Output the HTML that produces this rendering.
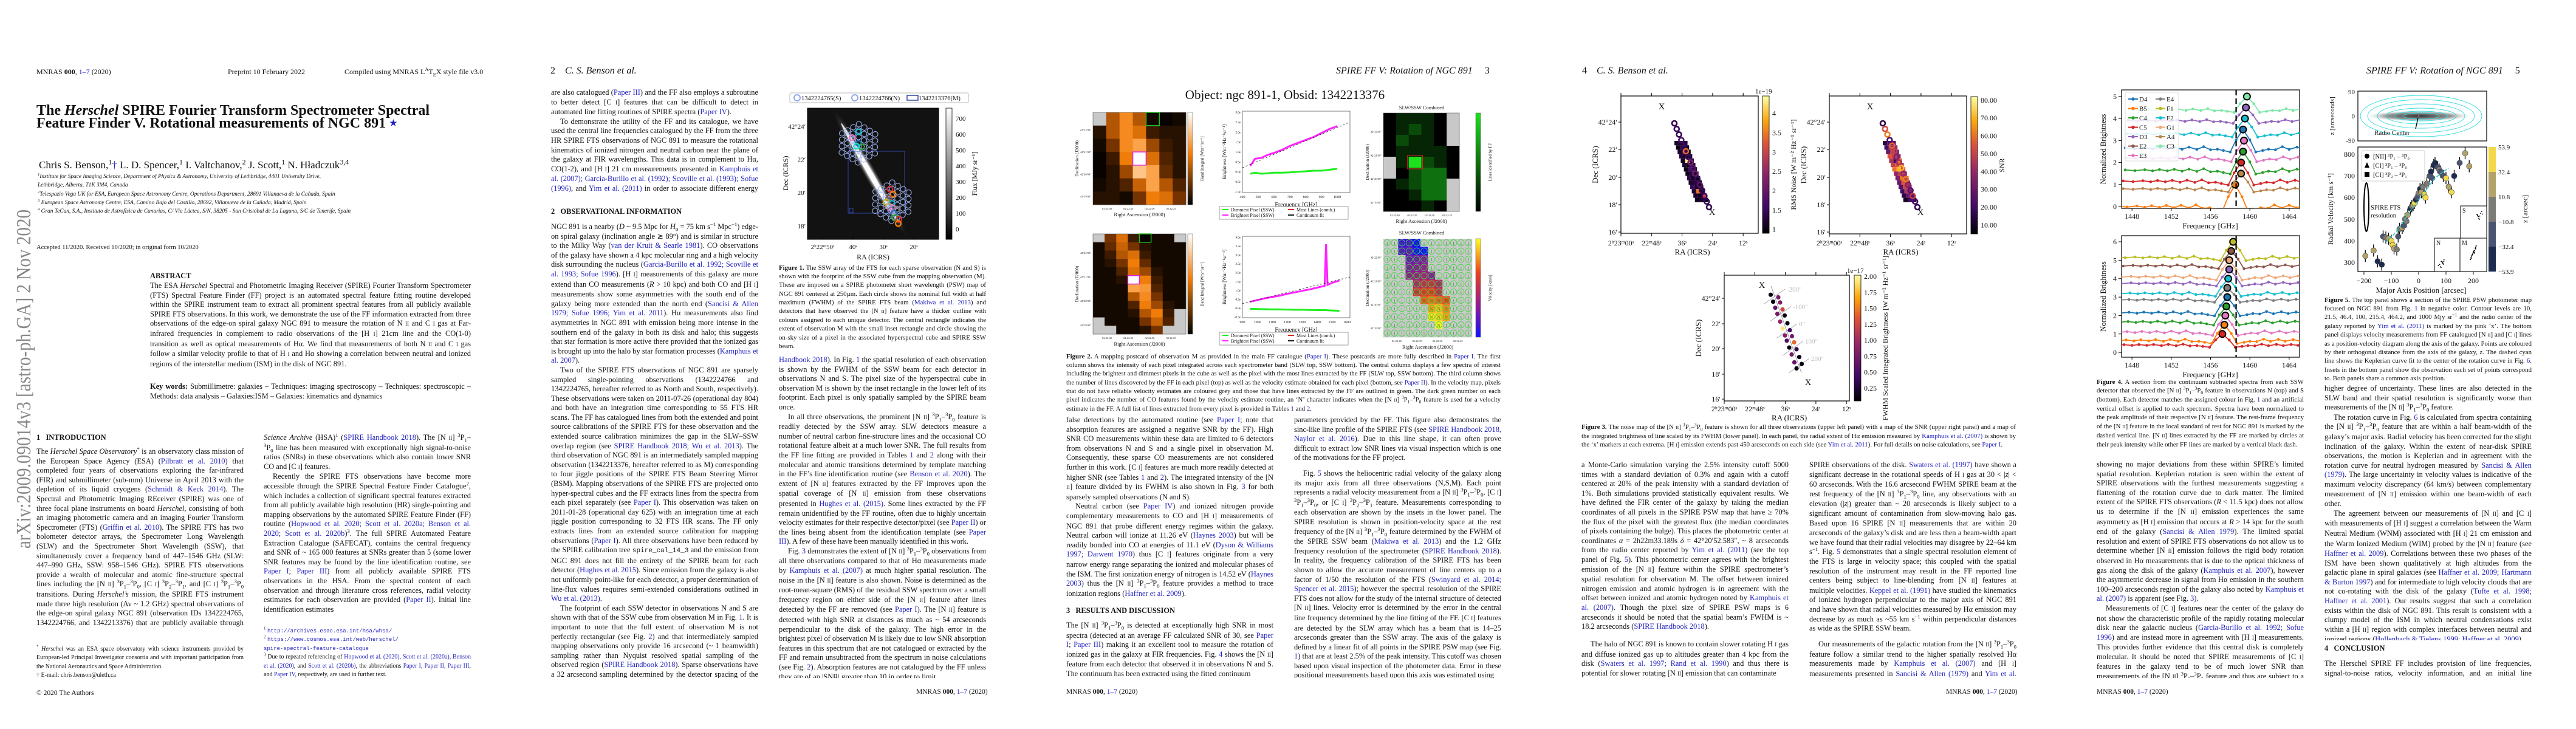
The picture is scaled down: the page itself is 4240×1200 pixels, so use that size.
<!DOCTYPE html>
<html><head><meta charset="utf-8">
<style>
html,body{margin:0;padding:0;background:#fff}
#canvas{position:relative;width:4240px;height:1200px;overflow:hidden;background:#fff;font-family:"Liberation Serif",serif;color:#111}
.t{position:absolute;width:341px;font-size:12.4px;line-height:15.6px;text-align:justify;overflow:hidden;hyphens:auto}
.t p{margin:0;text-indent:15px}
.t p.ni{text-indent:0}
.cap{position:absolute;font-size:10.8px;line-height:14.2px;text-align:justify;overflow:hidden}
.b{color:#2323c0}
sup,sub{line-height:0;font-size:70%}
small{font-size:72%}
.hd{position:absolute;font-size:12px;white-space:nowrap}
.rh{position:absolute;font-size:16px;font-style:italic;white-space:nowrap}
.h2{position:absolute;font-size:12.4px;font-weight:bold;white-space:nowrap}
.ft{position:absolute;font-size:11.5px;white-space:nowrap}
.fn{position:absolute;font-size:10px;line-height:14.4px;width:341px;text-align:justify}
svg text{font-family:"Liberation Serif",serif}
</style></head><body>
<div id="canvas">

<!-- PAGE 1 -->
<div class="hd" style="left:60px;top:111px">MNRAS <b>000</b>, <span class="b">1–7</span> (2020)</div>
<div class="hd" style="left:375px;top:111px">Preprint 10 February 2022</div>
<div class="hd" style="left:567px;top:111px">Compiled using MNRAS L<sup>A</sup>T<sub>E</sub>X style file v3.0</div>
<div style="position:absolute;left:60px;top:172px;font-size:24px;line-height:21px;font-weight:bold;white-space:nowrap">The <i>Herschel</i> SPIRE Fourier Transform Spectrometer Spectral<br>Feature Finder V. Rotational measurements of NGC 891 <span class="b" style="font-size:14px;vertical-align:top">★</span></div>
<div style="position:absolute;left:64px;top:262px;font-size:17px;white-space:nowrap">Chris S. Benson,<sup>1</sup><span class="b">†</span> L. D. Spencer,<sup>1</sup> I. Valtchanov,<sup>2</sup> J. Scott,<sup>1</sup> N. Hładczuk<sup>3,4</sup></div>
<div style="position:absolute;left:62px;top:284px;font-size:9.4px;line-height:14.3px;font-style:italic;white-space:nowrap"><sup>1</sup>Institute for Space Imaging Science, Department of Physics &amp; Astronomy, University of Lethbridge, 4401 University Drive,<br>Lethbridge, Alberta, T1K 3M4, Canada<br><sup>2</sup>Telespazio Vega UK for ESA, European Space Astronomy Centre, Operations Department, 28691 Villanueva de la Cañada, Spain<br><sup>3</sup> European Space Astronomy Centre, ESA, Camino Bajo del Castillo, 28692, Villanueva de la Cañada, Madrid, Spain<br><sup>4</sup> Gran TeCan, S.A., Instituto de Astrofísica de Canarias, C/ Vía Láctea, S/N, 38205 - San Cristóbal de La Laguna, S/C de Tenerife, Spain</div>
<div class="hd" style="left:60px;top:402px;font-size:10.5px">Accepted 11/2020. Received 10/2020; in original form 10/2020</div>
<div class="h2" style="left:247px;top:447px">ABSTRACT</div>
<div class="t" style="left:247px;top:463px;width:528px;height:156px"><p class="ni">The ESA <i>Herschel</i> Spectral and Photometric Imaging Receiver (SPIRE) Fourier Transform Spectrometer (FTS) Spectral Feature Finder (FF) project is an automated spectral feature fitting routine developed within the SPIRE instrument team to extract all prominent spectral features from all publicly available SPIRE FTS observations. In this work, we demonstrate the use of the FF information extracted from three observations of the edge-on spiral galaxy NGC 891 to measure the rotation of N <small>II</small> and C <small>I</small> gas at Far-infrared frequencies in complement to radio observations of the [H <small>I</small>] 21cm line and the CO(1-0) transition as well as optical measurements of Hα. We find that measurements of both N <small>II</small> and C <small>I</small> gas follow a similar velocity profile to that of H <small>I</small> and Hα showing a correlation between neutral and ionized regions of the interstellar medium (ISM) in the disk of NGC 891.</p></div>
<div class="t" style="left:247px;top:629px;width:528px;height:32px"><p class="ni"><b>Key words:</b> Submillimetre: galaxies – Techniques: imaging spectroscopy – Techniques: spectroscopic – Methods: data analysis – Galaxies:ISM – Galaxies: kinematics and dynamics</p></div>
<svg style="position:absolute;left:14px;top:340px" width="44" height="566"><text transform="translate(36,563) rotate(-90)" font-size="34" fill="#888" textLength="558" lengthAdjust="spacingAndGlyphs">arXiv:2009.09014v3  [astro-ph.GA]  2 Nov 2020</text></svg>
<div class="h2" style="left:60px;top:713px">1&nbsp;&nbsp;&nbsp;INTRODUCTION</div>
<div class="t" style="left:60px;top:736px;height:297px"><p class="ni">The <i>Herschel Space Observatory</i><sup>*</sup> is an observatory class mission of the European Space Agency (ESA) (<span class="b">Pilbratt et al. 2010</span>) that completed four years of observations exploring the far-infrared (FIR) and submillimeter (sub-mm) Universe in April 2013 with the depletion of its liquid cryogens (<span class="b">Schmidt &amp; Keck 2014</span>). The Spectral and Photometric Imaging REceiver (SPIRE) was one of three focal plane instruments on board <i>Herschel</i>, consisting of both an imaging photometric camera and an imaging Fourier Transform Spectrometer (FTS) (<span class="b">Griffin et al. 2010</span>). The SPIRE FTS has two bolometer detector arrays, the Spectrometer Long Wavelength (SLW) and the Spectrometer Short Wavelength (SSW), that simultaneously cover a frequency band of 447–1546 GHz (SLW: 447–990 GHz, SSW: 958–1546 GHz). SPIRE FTS observations provide a wealth of molecular and atomic fine-structure spectral lines including the [N <small>II</small>] <sup>3</sup>P<sub>1</sub>–<sup>3</sup>P<sub>0</sub>, [C <small>I</small>] <sup>3</sup>P<sub>2</sub>–<sup>3</sup>P<sub>1</sub>, and [C <small>I</small>] <sup>3</sup>P<sub>1</sub>–<sup>3</sup>P<sub>0</sub> transitions. During <i>Herschel’s</i> mission, the SPIRE FTS instrument made three high resolution (Δν ~ 1.2 GHz) spectral observations of the edge-on spiral galaxy NGC 891 (observation IDs 1342224765, 1342224766, and 1342213376) that are publicly available through the <i>Herschel</i></p></div>
<div class="t" style="left:434px;top:713px;height:312px"><p class="ni"><i>Science Archive</i> (HSA)<sup>1</sup> (<span class="b">SPIRE Handbook 2018</span>). The [N <small>II</small>] <sup>3</sup>P<sub>1</sub>–<sup>3</sup>P<sub>0</sub> line has been measured with exceptionally high signal-to-noise ratios (SNRs) in these observations which also contain lower SNR CO and [C <small>I</small>] features.</p><p>Recently the SPIRE FTS observations have become more accessible through the SPIRE Spectral Feature Finder Catalogue<sup>2</sup>, which includes a collection of significant spectral features extracted from all publicly available high resolution (HR) single-pointing and mapping observations by the automated SPIRE Feature Finder (FF) routine (<span class="b">Hopwood et al. 2020; Scott et al. 2020a; Benson et al. 2020; Scott et al. 2020b</span>)<sup>3</sup>. The full SPIRE Automated Feature Extraction Catalogue (SAFECAT), contains the central frequency and SNR of ~ 165 000 features at SNRs greater than 5 (some lower SNR features may be found by the line identification routine, see <span class="b">Paper I</span>; <span class="b">Paper III</span>) from all publicly available SPIRE FTS observations in the HSA. From the spectral content of each observation and through literature cross references, radial velocity estimates for each observation are provided (<span class="b">Paper II</span>). Initial line identification estimates</p></div>
<div class="fn" style="left:60px;top:1062px"><sup>*</sup> <i>Herschel</i> was an ESA space observatory with science instruments provided by European-led Principal Investigator consortia and with important participation from the National Aeronautics and Space Administration.<br>† E-mail: chris.benson@uleth.ca</div>
<div class="fn" style="left:434px;top:1032px"><sup>1</sup> <span class="b" style="font-family:'Liberation Mono',monospace;font-size:9px">http://archives.esac.esa.int/hsa/whsa/</span><br><sup>2</sup> <span class="b" style="font-family:'Liberation Mono',monospace;font-size:9px">https://www.cosmos.esa.int/web/herschel/<br>spire-spectral-feature-catalogue</span><br><sup>3</sup> Due to repeated referencing of <span class="b">Hopwood et al. (2020), Scott et al. (2020a), Benson et al. (2020)</span>, and <span class="b">Scott et al. (2020b)</span>, the abbreviations <span class="b">Paper I, Paper II, Paper III</span>, and <span class="b">Paper IV</span>, respectively, are used in further text.</div>
<div class="ft" style="left:60px;top:1135px">© 2020 The Authors</div>

<!-- PAGE 2 -->
<div class="rh" style="left:906px;top:108px"><span style="font-style:normal">2</span>&nbsp;&nbsp;&nbsp;&nbsp;C. S. Benson et al.</div>
<div class="t" style="left:907px;top:145px;height:172px"><p class="ni">are also catalogued (<span class="b">Paper III</span>) and the FF also employs a subroutine to better detect [C <small>I</small>] features that can be difficult to detect in automated line fitting routines of SPIRE spectra (<span class="b">Paper IV</span>).</p><p>To demonstrate the utility of the FF and its catalogue, we have used the central line frequencies catalogued by the FF from the three HR SPIRE FTS observations of NGC 891 to measure the rotational kinematics of ionized nitrogen and neutral carbon near the plane of the galaxy at FIR wavelengths. This data is in complement to Hα, CO(1-2), and [H <small>I</small>] 21 cm measurements presented in <span class="b">Kamphuis et al. (2007); Garcia-Burillo et al. (1992); Scoville et al. (1993); Sofue (1996)</span>, and <span class="b">Yim et al. (2011)</span> in order to associate different energy regimes of the interstellar medium (ISM) in NGC 891.</p></div>
<div class="h2" style="left:907px;top:341px">2&nbsp;&nbsp;&nbsp;OBSERVATIONAL INFORMATION</div>
<div class="t" style="left:907px;top:366px;height:750px"><p class="ni">NGC 891 is a nearby (<i>D</i> ~ 9.5 Mpc for <i>H</i><sub>0</sub> = 75 km s<sup>−1</sup> Mpc<sup>−1</sup>) edge-on spiral galaxy (inclination angle ≳ 89°) and is similar in structure to the Milky Way (<span class="b">van der Kruit &amp; Searle 1981</span>). CO observations of the galaxy have shown a 4 kpc molecular ring and a high velocity disk surrounding the nucleus (<span class="b">Garcia-Burillo et al. 1992; Scoville et al. 1993; Sofue 1996</span>). [H <small>I</small>] measurements of this galaxy are more extend than CO measurements (<i>R</i> &gt; 10 kpc) and both CO and [H <small>I</small>] measurements show some asymmetries with the south end of the galaxy being more extended than the north end (<span class="b">Sancisi &amp; Allen 1979; Sofue 1996; Yim et al. 2011</span>). Hα measurements also find asymmetries in NGC 891 with emission being more intense in the southern end of the galaxy in both its disk and halo; this suggests that star formation is more active there provided that the ionized gas is brought up into the halo by star formation processes (<span class="b">Kamphuis et al. 2007</span>).</p><p>Two of the SPIRE FTS observations of NGC 891 are sparsely sampled single-pointing observations (1342224766 and 1342224765, hereafter referred to as North and South, respectively). These observations were taken on 2011-07-26 (operational day 804) and both have an integration time corresponding to 55 FTS HR scans. The FF has catalogued lines from both the extended and point source calibrations of the SPIRE FTS for these observation and the extended source calibration minimizes the gap in the SLW–SSW overlap region (see <span class="b">SPIRE Handbook 2018; Wu et al. 2013</span>). The third observation of NGC 891 is an intermediately sampled mapping observation (1342213376, hereafter referred to as M) corresponding to four jiggle positions of the SPIRE FTS Beam Steering Mirror (BSM). Mapping observations of the SPIRE FTS are projected onto hyper-spectral cubes and the FF extracts lines from the spectra from each pixel separately (see <span class="b">Paper I</span>). This observation was taken on 2011-01-28 (operational day 625) with an integration time at each jiggle position corresponding to 32 FTS HR scans. The FF only extracts lines from an extended source calibration for mapping observations (<span class="b">Paper I</span>). All three observations have been reduced by the SPIRE calibration tree <span style="font-family:'Liberation Mono',monospace;font-size:11px">spire_cal_14_3</span> and the emission from NGC 891 does not fill the entirety of the SPIRE beam for each detector (<span class="b">Hughes et al. 2015</span>). Since emission from the galaxy is also not uniformly point-like for each detector, a proper determination of line-flux values requires semi-extended considerations outlined in <span class="b">Wu et al. (2013)</span>.</p><p>The footprint of each SSW detector in observations N and S are shown with that of the SSW cube from observation M in Fig. <span class="b">1</span>. It is important to note that the full extent of observation M is not perfectly rectangular (see Fig. <span class="b">2</span>) and that intermediately sampled mapping observations only provide 16 arcsecond (~ 1 beamwidth) sampling rather than Nyquist resolved spatial sampling of the observed region (<span class="b">SPIRE Handbook 2018</span>). Sparse observations have a 32 arcsecond sampling determined by the detector spacing of the FTS (<span class="b">SPIRE</span></p></div>
<div class="cap" style="left:1282px;top:434px;width:341px;height:142px"><b>Figure 1.</b> The SSW array of the FTS for each sparse observation (N and S) is shown with the footprint of the SSW cube from the mapping observation (M). These are imposed on a SPIRE photometer short wavelength (PSW) map of NGC 891 centered at 250µm. Each circle shows the nominal full width at half maximum (FWHM) of the SPIRE FTS beam (<span class="b">Makiwa et al. 2013</span>) and detectors that have observed the [N <small>II</small>] feature have a thicker outline with colours assigned to each unique detector. The central rectangle indicates the extent of observation M with the small inset rectangle and circle showing the on-sky size of a pixel in the associated hyperspectral cube and SPIRE SSW beam.</div>
<div class="t" style="left:1282px;top:585px;height:531px"><p class="ni"><span class="b">Handbook 2018</span>). In Fig. <span class="b">1</span> the spatial resolution of each observation is shown by the FWHM of the SSW beam for each detector in observations N and S. The pixel size of the hyperspectral cube in observation M is shown by the inset rectangle in the lower left of its footprint. Each pixel is only spatially sampled by the SPIRE beam once.</p><p>In all three observations, the prominent [N <small>II</small>] <sup>3</sup>P<sub>1</sub>–<sup>3</sup>P<sub>0</sub> feature is readily detected by the SSW array. SLW detectors measure a number of neutral carbon fine-structure lines and the occasional CO rotational feature albeit at a much lower SNR. The full results from the FF line fitting are provided in Tables <span class="b">1</span> and <span class="b">2</span> along with their molecular and atomic transitions determined by template matching in the FF’s line identification routine (see <span class="b">Benson et al. 2020</span>). The extent of [N <small>II</small>] features extracted by the FF improves upon the spatial coverage of [N <small>II</small>] emission from these observations presented in <span class="b">Hughes et al. (2015)</span>. Some lines extracted by the FF remain unidentified by the FF routine, often due to highly uncertain velocity estimates for their respective detector/pixel (see <span class="b">Paper II</span>) or the lines being absent from the identification template (see <span class="b">Paper III</span>). A few of these have been manually identified in this work.</p><p>Fig. <span class="b">3</span> demonstrates the extent of [N <small>II</small>] <sup>3</sup>P<sub>1</sub>–<sup>3</sup>P<sub>0</sub> observations from all three observations compared to that of Hα measurements made by <span class="b">Kamphuis et al. (2007)</span> at much higher spatial resolution. The noise in the [N <small>II</small>] feature is also shown. Noise is determined as the root-mean-square (RMS) of the residual SSW spectrum over a small frequency region on either side of the [N <small>II</small>] feature after lines detected by the FF are removed (see <span class="b">Paper I</span>). The [N <small>II</small>] feature is detected with high SNR at distances as much as ~ 54 arcseconds perpendicular to the disk of the galaxy. The high error in the brightest pixel of observation M is likely due to low SNR absorption features in this spectrum that are not catalogued or extracted by the FF and remain unsubtracted from the spectrum in noise calculations (see Fig. <span class="b">2</span>). Absorption features are not catalogued by the FF unless they are of an |SNR| greater than 10 in order to limit</p></div>
<div class="ft" style="left:1508px;top:1133px">MNRAS <b>000</b>, <span class="b">1–7</span> (2020)</div>

<!-- PAGE 3 -->
<div class="rh" style="left:2199px;top:108px">SPIRE FF V: Rotation of NGC 891&nbsp;&nbsp;&nbsp;&nbsp;&nbsp;<span style="font-style:normal">3</span></div>
<div class="cap" style="left:1755px;top:580px;width:715px;height:101px"><b>Figure 2.</b> A mapping postcard of observation M as provided in the main FF catalogue (<span class="b">Paper I</span>). These postcards are more fully described in <span class="b">Paper I</span>. The first column shows the intensity of each pixel integrated across each spectrometer band (SLW top, SSW bottom). The central column displays a few spectra of interest including the brightest and dimmest pixels in the cube as well as the pixel with the most lines extracted by the FF (SLW top, SSW bottom). The third column shows the number of lines discovered by the FF in each pixel (top) as well as the velocity estimate obtained for each pixel (bottom, see <span class="b">Paper II</span>). In the velocity map, pixels that do not have reliable velocity estimates are coloured grey and those that have lines extracted by the FF are outlined in green. The dark green number on each pixel indicates the number of CO features found by the velocity estimate routine, an ‘N’ character indicates when the [N <small>II</small>] <sup>3</sup>P<sub>1</sub>–<sup>3</sup>P<sub>0</sub> feature is used for a velocity estimate in the FF. A full list of lines extracted from every pixel is provided in Tables <span class="b">1</span> and <span class="b">2</span>.</div>
<div class="t" style="left:1755px;top:684px;height:312px"><p class="ni">false detections by the automated routine (see <span class="b">Paper I</span>; note that absorption features are assigned a negative SNR by the FF). High SNR CO measurements within these data are limited to 6 detectors from observations N and S and a single pixel in observation M. Consequently, these sparse CO measurements are not considered further in this work. [C <small>I</small>] features are much more readily detected at higher SNR (see Tables <span class="b">1</span> and <span class="b">2</span>). The integrated intensity of the [N <small>II</small>] feature divided by its FWHM is also shown in Fig. <span class="b">3</span> for both sparsely sampled observations (N and S).</p><p>Neutral carbon (see <span class="b">Paper IV</span>) and ionized nitrogen provide complementary measurements to CO and [H <small>I</small>] measurements of NGC 891 that probe different energy regimes within the galaxy. Neutral carbon will ionize at 11.26 eV (<span class="b">Haynes 2003</span>) but will be readily bonded into CO at energies of 11.1 eV (<span class="b">Dyson &amp; Williams 1997; Darwent 1970</span>) thus [C <small>I</small>] features originate from a very narrow energy range separating the ionized and molecular phases of the ISM. The first ionization energy of nitrogen is 14.52 eV (<span class="b">Haynes 2003</span>) thus the [N <small>II</small>] <sup>3</sup>P<sub>1</sub>–<sup>3</sup>P<sub>0</sub> feature provides a method to trace ionization regions (<span class="b">Haffner et al. 2009</span>).</p></div>
<div class="h2" style="left:1755px;top:998px">3&nbsp;&nbsp;&nbsp;RESULTS AND DISCUSSION</div>
<div class="t" style="left:1755px;top:1022px;height:94px"><p class="ni">The [N <small>II</small>] <sup>3</sup>P<sub>1</sub>–<sup>3</sup>P<sub>0</sub> is detected at exceptionally high SNR in most spectra (detected at an average FF calculated SNR of 30, see <span class="b">Paper I</span>; <span class="b">Paper III</span>) making it an excellent tool to measure the rotation of ionized gas in the galaxy at FIR frequencies. Fig. <span class="b">4</span> shows the [N <small>II</small>] feature from each detector that observed it in observations N and S. The continuum has been extracted using the fitted continuum</p></div>
<div class="t" style="left:2130px;top:684px;height:78px"><p class="ni">parameters provided by the FF. This figure also demonstrates the sinc-like line profile of the SPIRE FTS (see <span class="b">SPIRE Handbook 2018, Naylor et al. 2016</span>). Due to this line shape, it can often prove difficult to extract low SNR lines via visual inspection which is one of the motivations for the FF project.</p></div>
<div class="t" style="left:2130px;top:772px;height:344px"><p>Fig. <span class="b">5</span> shows the heliocentric radial velocity of the galaxy along its major axis from all three observations (N,S,M). Each point represents a radial velocity measurement from a [N <small>II</small>] <sup>3</sup>P<sub>1</sub>–<sup>3</sup>P<sub>0</sub>, [C <small>I</small>] <sup>3</sup>P<sub>1</sub>–<sup>3</sup>P<sub>0</sub>, or [C <small>I</small>] <sup>3</sup>P<sub>2</sub>–<sup>3</sup>P<sub>1</sub> feature. Measurements corresponding to each observation are shown by the insets in the lower panel. The SPIRE resolution is shown in position-velocity space at the rest frequency of the [N <small>II</small>] <sup>3</sup>P<sub>1</sub>–<sup>3</sup>P<sub>0</sub> feature determined by the FWHM of the SPIRE SSW beam (<span class="b">Makiwa et al. 2013</span>) and the 1.2 GHz frequency resolution of the spectrometer (<span class="b">SPIRE Handbook 2018</span>). In reality, the frequency calibration of the SPIRE FTS has been shown to allow the accurate measurement of line centers up to a factor of 1/50 the resolution of the FTS (<span class="b">Swinyard et al. 2014; Spencer et al. 2015</span>); however the spectral resolution of the SPIRE FTS does not allow for the study of the internal structure of detected [N <small>II</small>] lines. Velocity error is determined by the error in the central line frequency determined by the line fitting of the FF. [C <small>I</small>] features are detected by the SLW array which has a beam that is 14–25 arcseconds greater than the SSW array. The axis of the galaxy is defined by a linear fit of all points in the SPIRE PSW map (see Fig. <span class="b">1</span>) that are at least 2.5% of the peak intensity. This cutoff was chosen based upon visual inspection of the photometer data. Error in these positional measurements based upon this axis was estimated using</p></div>
<div class="ft" style="left:1755px;top:1133px">MNRAS <b>000</b>, <span class="b">1–7</span> (2020)</div>

<!-- PAGE 4 -->
<div class="rh" style="left:2604px;top:108px"><span style="font-style:normal">4</span>&nbsp;&nbsp;&nbsp;&nbsp;C. S. Benson et al.</div>
<div class="cap" style="left:2603px;top:696px;width:715px;height:58px"><b>Figure 3.</b> The noise map of the [N <small>II</small>] <sup>3</sup>P<sub>1</sub>–<sup>3</sup>P<sub>0</sub> feature is shown for all three observations (upper left panel) with a map of the SNR (upper right panel) and a map of the integrated brightness of line scaled by its FWHM (lower panel). In each panel, the radial extent of Hα emission measured by <span class="b">Kamphuis et al. (2007)</span> is shown by the ‘x’ markers at each extrema. [H <small>I</small>] emission extends past 450 arcseconds on each side (see <span class="b">Yim et al. 2011</span>). For full details on noise calculations, see <span class="b">Paper I</span>.</div>
<div class="t" style="left:2603px;top:758px;height:282px"><p class="ni">a Monte-Carlo simulation varying the 2.5% intensity cutoff 5000 times with a standard deviation of 0.3% and again with a cutoff centered at 20% of the peak intensity with a standard deviation of 1%. Both simulations provided statistically equivalent results. We have defined the FIR center of the galaxy by taking the median coordinates of all pixels in the SPIRE PSW map that have ≥ 70% the flux of the pixel with the greatest flux (the median coordinates of pixels containing the bulge). This places the photometric center at coordinates <i>α</i> = 2h22m33.189s <i>δ</i> = 42°20′52.583″, ~ 8 arcseconds from the radio center reported by <span class="b">Yim et al. (2011)</span> (see the top panel of Fig. <span class="b">5</span>). This photometric center agrees with the brightest emission of the [N <small>II</small>] feature within the SPIRE spectrometer’s spatial resolution for observation M. The offset between ionized nitrogen emission and atomic hydrogen is in agreement with the offset between ionized and atomic hydrogen noted by <span class="b">Kamphuis et al. (2007)</span>. Though the pixel size of SPIRE PSW maps is 6 arcseconds it should be noted that the spatial beam’s FWHM is ~ 18.2 arcseconds (<span class="b">SPIRE Handbook 2018</span>).</p></div>
<div class="t" style="left:2603px;top:1053px;height:63px"><p>The halo of NGC 891 is known to contain slower rotating H <small>I</small> gas and diffuse ionized gas up to altitudes greater than 4 kpc from the disk (<span class="b">Swaters et al. 1997; Rand et al. 1990</span>) and thus there is potential for slower rotating [N <small>II</small>] emission that can contaminate</p></div>
<div class="t" style="left:2978px;top:758px;height:282px"><p class="ni">SPIRE observations of the disk. <span class="b">Swaters et al. (1997)</span> have shown a significant decrease in the rotational speeds of H <small>I</small> gas at 30 &lt; |<i>z</i>| &lt; 60 arcseconds. With the 16.6 arcsecond FWHM SPIRE beam at the rest frequency of the [N <small>II</small>] <sup>3</sup>P<sub>1</sub>–<sup>3</sup>P<sub>0</sub> line, any observations with an elevation (|<i>z</i>|) greater than ~ 20 arcseconds is likely subject to a significant amount of contamination from slow-moving halo gas. Based upon 16 SPIRE [N <small>II</small>] measurements that are within 20 arcseconds of the galaxy’s disk and are less then a beam-width apart we have found that their radial velocities may disagree by 22–64 km s<sup>−1</sup>. Fig. <span class="b">5</span> demonstrates that a single spectral resolution element of the FTS is large in velocity space; this coupled with the spatial resolution of the instrument may result in the FF reported line centers being subject to line-blending from [N <small>II</small>] features at multiple velocities. <span class="b">Keppel et al. (1991)</span> have studied the kinematics of ionized hydrogen perpendicular to the major axis of NGC 891 and have shown that radial velocities measured by Hα emission may decrease by as much as ~55 km s<sup>−1</sup> within perpendicular distances as wide as the SPIRE SSW beam.</p></div>
<div class="t" style="left:2978px;top:1053px;height:63px"><p>Our measurements of the galactic rotation from the [N <small>II</small>] <sup>3</sup>P<sub>1</sub>–<sup>3</sup>P<sub>0</sub> feature follow a similar trend to the higher spatially resolved Hα measurements made by <span class="b">Kamphuis et al. (2007)</span> and [H <small>I</small>] measurements presented in <span class="b">Sancisi &amp; Allen (1979)</span> and <span class="b">Yim et al. (2011)</span>,</p></div>
<div class="ft" style="left:3203px;top:1133px">MNRAS <b>000</b>, <span class="b">1–7</span> (2020)</div>

<!-- PAGE 5 -->
<div class="rh" style="left:3895px;top:108px">SPIRE FF V: Rotation of NGC 891&nbsp;&nbsp;&nbsp;&nbsp;&nbsp;<span style="font-style:normal">5</span></div>
<div class="cap" style="left:3451px;top:622px;width:341px;height:129px"><b>Figure 4.</b> A section from the continuum subtracted spectra from each SSW detector that observed the [N <small>II</small>] <sup>3</sup>P<sub>1</sub>–<sup>3</sup>P<sub>0</sub> feature in observations N (top) and S (bottom). Each detector matches the assigned colour in Fig. <span class="b">1</span> and an artificial vertical offset is applied to each spectrum. Spectra have been normalized to the peak amplitude of their respective [N <small>II</small>] feature. The rest-frame frequency of the [N <small>II</small>] feature in the local standard of rest for NGC 891 is marked by the dashed vertical line. [N <small>II</small>] lines extracted by the FF are marked by circles at their peak intensity while other FF lines are marked by a vertical black dash.</div>
<div class="t" style="left:3451px;top:757px;height:359px"><p class="ni">showing no major deviations from these within SPIRE’s limited spatial resolution. Keplerian rotation is seen within the extent of SPIRE observations with the furthest measurements suggesting a flattening of the rotation curve due to dark matter. The limited extent of the SPIRE FTS observations (<i>R</i> &lt; 11.5 kpc) does not allow us to determine if the [N <small>II</small>] emission experiences the same asymmetry as [H <small>I</small>] emission that occurs at <i>R</i> &gt; 14 kpc for the south end of the galaxy (<span class="b">Sancisi &amp; Allen 1979</span>). The limited spatial resolution and extent of SPIRE FTS observations do not allow us to determine whether [N <small>II</small>] emission follows the rigid body rotation observed in Hα measurements that is due to the optical thickness of gas along the disk of the galaxy (<span class="b">Kamphuis et al. 2007</span>), however the asymmetric decrease in signal from Hα emission in the southern 100–200 arcseconds region of the galaxy also noted by <span class="b">Kamphuis et al. (2007)</span> is apparent (see Fig. <span class="b">3</span>).</p><p>Measurements of [C <small>I</small>] features near the center of the galaxy do not show the characteristic profile of the rapidly rotating molecular disk near the galactic nucleus (<span class="b">Garcia-Burillo et al. 1992; Sofue 1996</span>) and are instead more in agreement with [H <small>I</small>] measurements. This provides further evidence that this central disk is completely molecular. It should be noted that SPIRE measurements of [C <small>I</small>] features in the galaxy tend to be of much lower SNR than measurements of the [N <small>II</small>] <sup>3</sup>P<sub>1</sub>–<sup>3</sup>P<sub>0</sub> feature and thus are subject to a much</p></div>
<div class="cap" style="left:3826px;top:487px;width:341px;height:143px"><b>Figure 5.</b> The top panel shows a section of the SPIRE PSW photometer map focused on NGC 891 from Fig. <span class="b">1</span> in negative color. Contour levels are 10, 21.5, 46.4, 100, 215.4, 464.2, and 1000 Mjy sr<sup>−1</sup> and the radio center of the galaxy reported by <span class="b">Yim et al. (2011)</span> is marked by the pink ‘x’. The bottom panel displays velocity measurements from FF catalogued [N <small>II</small>] and [C <small>I</small>] lines as a position-velocity diagram along the axis of the galaxy. Points are coloured by their orthogonal distance from the axis of the galaxy, <i>z</i>. The dashed cyan line shows the Keplerian curve fit to the center of the rotation curve in Fig. <span class="b">6</span>. Insets in the bottom panel show the observation each set of points correspond to. Both panels share a common axis position.</div>
<div class="t" style="left:3826px;top:632px;height:422px"><p class="ni">higher degree of uncertainty. These lines are also detected in the SLW band and their spatial resolution is significantly worse than measurements of the [N <small>II</small>] <sup>3</sup>P<sub>1</sub>–<sup>3</sup>P<sub>0</sub> feature.</p><p>The rotation curve in Fig. <span class="b">6</span> is calculated from spectra containing the [N <small>II</small>] <sup>3</sup>P<sub>1</sub>–<sup>3</sup>P<sub>0</sub> feature that are within a half beam-width of the galaxy’s major axis. Radial velocity has been corrected for the slight inclination of the galaxy. Within the extent of near-disk SPIRE observations, the motion is Keplerian and in agreement with the rotation curve for neutral hydrogen measured by <span class="b">Sancisi &amp; Allen (1979)</span>. The large uncertainty in velocity values is indicative of the maximum velocity discrepancy (64 km/s) between complementary measurement of [N <small>II</small>] emission within one beam-width of each other.</p><p>The agreement between our measurements of [N <small>II</small>] and [C <small>I</small>] with measurements of [H <small>I</small>] suggest a correlation between the Warm Neutral Medium (WNM) associated with [H <small>I</small>] 21 cm emission and the Warm Ionized Medium (WIM) probed by the [N <small>II</small>] feature (see <span class="b">Haffner et al. 2009</span>). Correlations between these two phases of the ISM have been shown qualitatively at high altitudes from the galactic plane in spiral galaxies (see <span class="b">Haffner et al. 2009; Hartmann &amp; Burton 1997</span>) and for intermediate to high velocity clouds that are not co-rotating with the disk of the galaxy (<span class="b">Tufte et al. 1998; Haffner et al. 2001</span>). Our results suggest that such a correlation exists within the disk of NGC 891. This result is consistent with a clumpy model of the ISM in which neutral condensations exist within a [H <small>II</small>] region with complex interfaces between neutral and ionized regions (<span class="b">Hollenbach &amp; Tielens 1999; Haffner et al. 2009</span>).</p></div>
<div class="h2" style="left:3826px;top:1060px">4&nbsp;&nbsp;&nbsp;CONCLUSION</div>
<div class="t" style="left:3826px;top:1085px;height:32px"><p class="ni">The Herschel SPIRE FF includes provision of line frequencies, signal-to-noise ratios, velocity information, and an initial line identification</p></div>
<div class="ft" style="left:3451px;top:1133px">MNRAS <b>000</b>, <span class="b">1–7</span> (2020)</div>

<svg id="figs" width="4240" height="1200" style="position:absolute;left:0;top:0;pointer-events:none">
<defs>
<linearGradient id="gGray" x1="0" y1="1" x2="0" y2="0"><stop offset="0" stop-color="#000"/><stop offset="1" stop-color="#fff"/></linearGradient>
<linearGradient id="gOrange" x1="0" y1="1" x2="0" y2="0"><stop offset="0" stop-color="#000"/><stop offset="0.55" stop-color="#f07d0a"/><stop offset="1" stop-color="#fff"/></linearGradient>
<linearGradient id="gGreen" x1="0" y1="1" x2="0" y2="0"><stop offset="0" stop-color="#000"/><stop offset="1" stop-color="#1ee01e"/></linearGradient>
<linearGradient id="gVel" x1="0" y1="1" x2="0" y2="0"><stop offset="0" stop-color="#1010ff"/><stop offset="0.3" stop-color="#8a1a9a"/><stop offset="0.65" stop-color="#e8401e"/><stop offset="1" stop-color="#ffff20"/></linearGradient>
<linearGradient id="gInferno" x1="0" y1="1" x2="0" y2="0"><stop offset="0" stop-color="#000004"/><stop offset="0.2" stop-color="#420a68"/><stop offset="0.45" stop-color="#932667"/><stop offset="0.65" stop-color="#dd513a"/><stop offset="0.82" stop-color="#fca50a"/><stop offset="1" stop-color="#fcffa4"/></linearGradient>
<radialGradient id="gStreak"><stop offset="0" stop-color="#fff"/><stop offset="0.35" stop-color="#ddd"/><stop offset="1" stop-color="#111" stop-opacity="0"/></radialGradient>
<radialGradient id="gGal"><stop offset="0" stop-color="#333"/><stop offset="0.6" stop-color="#999"/><stop offset="1" stop-color="#fff" stop-opacity="0"/></radialGradient>
<clipPath id="c4a"><rect x="3492" y="148" width="293" height="195"/></clipPath>
<clipPath id="c4b"><rect x="3492" y="388" width="293" height="200"/></clipPath>
<clipPath id="c1"><rect x="1329" y="178" width="216" height="216"/></clipPath>
</defs>
<g id="fig1"></g>
<g id="fig2"></g>
<g id="fig3"></g>
<g id="fig4"></g>
<g id="fig5"></g>
</svg>
</div>

<script>
// ---------------- DATA ----------------
// Fig 1: PSW flux colorbar ticks
const fig1FluxTicks = [0,100,200,300,400,500,600,700];
const fig1DecTicks = ["42°24′","22′","20′","18′"];
const fig1DecVals = [24,22,20,18];
const fig1RaTicks = ["2ʰ22ᵐ50ˢ","40ˢ","30ˢ","20ˢ"];
const fig1RaVals = [50,40,30,20];
const fig1NiiN = [["#17becf",0,2],["#e377c2",-1,1],["#1f77b4",0,0],["#2ca02c",0.5,-0.6],["#17e0d0",-0.3,-0.5]];
const fig1NiiS = [["#d62728",-0.3,2.2],["#ff7f0e",0.2,1.3],["#8c564b",-0.5,0.6],["#bcbd22",-0.9,-0.1],["#17becf",0,-0.3],["#c49c94",-0.5,-0.8],["#e377c2",0.2,-1.1],["#9467bd",-0.2,-1.5],["#7f7f7f",0.8,-1.3],["#1f77b4",0.3,-2],["#2ca02c",0.4,-2.8],["#d62728",1.1,-3.1],["#ff7f0e",1,-3.8]];
// Fig 2 data
const fig2SlwGrid = [[-1,.45,.65,.45,.05,.02,.05],[.1,.45,.65,.55,.15,.1,.1],[.05,.3,.65,.75,.4,.15,.1],[.02,.15,.6,1.0,.55,.2,.1],[.02,.1,.4,.85,.75,.25,.1],[.05,.1,.2,.5,.75,.45,.2],[.1,.1,.05,.3,.6,.55,.3]];
const fig2SswGrid = [[-1,.3,.55,.15,.02,.05,.05,-1],[.05,.25,.5,.3,.1,.05,.05,.05],[.05,.15,.45,.55,.15,.05,.05,.05],[.05,.1,.3,.6,.25,.05,.05,.05],[.05,.05,.2,.55,.4,.1,.05,.05],[.05,.05,.1,1.0,.6,.15,.05,.05],[.05,.05,.05,.75,.7,.2,.05,.05],[.05,.05,.05,.45,.65,.3,.05,.05],[.05,.05,.05,.2,.6,.4,.1,.05],[.05,.05,.05,.1,.45,.6,.15,-1],[-1,.05,.05,.05,.3,.5,.2,-1],[-1,-1,.05,.05,.1,.3,-1,-1]];
const fig2LinesGrid = [[0,1,1,1,0,-1],[0,1,2,1,0,-1],[0,2,1,1,0,-1],[0,1,1,1,1,0],[-1,1,6,2,1,0],[-1,0,2,3,3,0],[0,1,2,3,3,-1],[0,0,1,3,3,-1],[0,0,0,1,0,-1]];
const fig2VelGrid = [[-1,-1,420,430,380,-1,-1,-1,-1,-1,-1,-1],[-1,-1,440,450,390,330,-1,-1,-1,-1,-1,-1],[-1,-1,-1,460,470,480,-1,-1,-1,-1,-1,-1],[-1,-1,-1,480,490,500,-1,-1,-1,-1,-1,-1],[-1,-1,-1,500,510,520,490,-1,-1,-1,-1,-1],[-1,-1,-1,-1,540,560,570,540,-1,-1,-1,-1],[-1,-1,-1,-1,580,600,610,560,-1,-1,-1,-1],[-1,-1,-1,-1,-1,630,650,640,620,-1,-1,-1],[-1,-1,-1,-1,-1,-1,680,700,660,-1,-1,-1],[-1,-1,-1,-1,-1,-1,720,710,680,-1,-1,-1],[-1,-1,-1,-1,-1,-1,-1,730,-1,-1,-1,-1],[-1,-1,-1,-1,-1,-1,-1,-1,-1,-1,-1,-1]];
const fig2SlwFreq = [450,480,520,560,600,650,700,750,800,850,900,950,1000];
const fig2SlwBright = [0.3,0.65,0.7,0.85,0.95,1.1,1.3,1.45,1.6,1.75,1.95,2.15,2.3];
const fig2SlwDim = [-0.1,-0.05,-0.1,-0.08,-0.05,-0.05,-0.03,0,0.02,0.05,0.05,0.1,0.15];
const fig2SswFreq = [950,1000,1050,1100,1150,1200,1250,1300,1350,1400,1450,1460,1470,1500,1550];
const fig2SswBright = [0.35,0.45,0.55,0.62,0.7,0.8,0.88,0.97,1.05,1.15,1.25,3.6,1.3,1.42,1.55];
const fig2SswDim = [-0.05,-0.06,-0.07,-0.08,-0.08,-0.09,-0.1,-0.1,-0.11,-0.12,-0.12,-0.12,-0.13,-0.14,-0.16];
// Fig 3 data
const fig3NoiseVals = [1.2,1.1,1.3,1.0,1.4,1.1,1.2,1.5,1.0,1.3,1.1,1.2,1.1,4.3,1.4,1.2,1.1,1.3,1.0,1.6,1.2,1.1,1.3,1.2,1.4,1.1,1.0,1.2,1.3,1.1,1.5,1.2,1.1,1.2,3.4,1.3,1.2,1.1,3.0,1.1,1.2,1.0];
const fig3SnrVals = [15,25,30,20,45,40,30,50,35,55,50,40,45,20,60,50,55,45,60,70,55,40,50,45,35,60,50,30,55,45,25,50,40,20,45,35,15,30,25,10,20,15];
const fig3SparseNoise = [1.1,1.2,1.1,1.4,1.1,3.2,1.2,2.0,1.5,1.8,1.2,1.6,1.1,1.2,1.1,1.1];
const fig3SparseSnr = [10,50,60,15,55,45,30,40,70,35,60,30,20,45,15,10];
const fig3AxisPos = [-215,-190,-175,-160,-140,-120,-105,-85,-60,-40,-20,0,20,35,50,70,90,110,130,155,175,195,210];
const fig3Bright = [0.05,0.7,0.05,0.8,0.6,1.2,0.7,0.05,0.9,0.05,1.9,0.4,0.8,0.7,0.5,1.4,0.05,0.3,0.7,0.05,0.6,0.05,0.05];
const fig3AxisLabels = [-200,-100,0,100,200];
// Fig 4 data
const fig4ProfileDx = [-12,-11,-10,-9.2,-8.5,-7.7,-7,-6.2,-5.5,-4.7,-4,-3.3,-2.6,-2,-1.3,-0.7,0,0.7,1.3,2,2.6,3.3,4,4.7,5.5,6.2,7,7.7,8.5,9.2,10,11,12];
const fig4ProfileY = [0.02,-0.02,0.03,-0.03,0.04,-0.03,0.05,-0.05,0.06,-0.06,0.08,-0.08,-0.05,-0.12,-0.2,0.45,1,0.45,-0.2,-0.12,-0.05,-0.08,0.08,-0.06,0.06,-0.05,0.05,-0.03,0.04,-0.03,0.03,-0.02,0.02];
const fig4TopDetectors = ["B5","A4","C5","C4","E3","D4","F2","D3","C3"];
const fig4TopOffsets = [0,0.8,1.15,1.65,2.2,2.65,3.3,3.9,4.4];
const fig4TopPeaks = [1458.5,1459.1,1459.1,1459.3,1459.4,1459.3,1459.5,1459.6,1459.7];
const fig4TopAmps = [1.0,0.7,0.85,0.85,0.8,0.85,0.7,0.6,0.6];
const fig4BotDetectors = ["C5","B5","E3","C4","D4","E4","F2","D3","G1","E2","F1"];
const fig4BotOffsets = [0.4,0.65,1.1,1.65,2.15,2.85,3.2,3.75,4.1,4.7,5.15];
const fig4BotPeaks = [1457.2,1457.4,1457.5,1457.6,1457.7,1457.7,1457.8,1457.9,1457.9,1458.1,1458.3];
const fig4BotAmps = [0.6,0.85,0.9,0.85,0.85,0.65,0.8,0.75,0.9,0.8,0.85];
const fig4LegendNames = ["D4","E4","B5","F1","C4","F2","C5","G1","D3","A4","E2","C3","E3"];
const fig4XTicks = [1448,1452,1456,1460,1464];
const fig4TopYTicks = [0,1,2,3,4,5];
const fig4BotYTicks = [0,1,2,3,4,5,6];
const fig4RestFreq = 1458.6;
// Fig 5 data
const fig5Pos = [-195,-165,-150,-135,-130,-120,-110,-100,-95,-90,-80,-75,-70,-60,-55,-50,-45,-40,-30,-25,-20,-15,-10,-5,0,5,10,15,20,25,30,40,45,50,55,60,70,75,80,90,100,110,120,130,150,170,185];
const fig5Vel = [330,355,305,290,420,415,410,400,380,365,360,420,455,460,470,500,490,520,550,560,565,575,590,600,620,640,625,650,615,600,665,700,720,690,750,760,740,730,720,700,690,650,625,700,760,805,745];
const fig5Z = [20,25,-45,-50,-20,0,15,40,45,30,10,-15,5,20,-30,10,-5,25,-40,-10,15,35,-50,-20,5,-35,20,10,45,50,-5,-25,-40,-30,-45,-35,-20,-10,-30,-15,40,20,50,-35,-25,30,20];
const fig5FitPos = [-120,-90,-60,-30,0,30,60,90,110];
const fig5FitVel = [395,430,480,540,590,640,690,720,735];
const fig5ZBounds = [-53.9,-32.4,-10.8,10.8,32.4,53.9];
const fig5ZColors = ["#1d2b4f","#4b5572","#7c7b78","#b3a36a","#f2d84a"];
const fig5ContourRx = [100,88,72,58,44,30];
const fig5ContourRy = [34,27,20,13,8,5];
const fig5XTicks = [-200,-100,0,100,200];
const fig5YTicks = [300,400,500,600,700,800];

// ---------------- HELPERS ----------------
const NS = "http://www.w3.org/2000/svg";
function mk(tag, parent, attrs) {
  const e = document.createElementNS(NS, tag);
  for (const k in attrs) e.setAttribute(k, attrs[k]);
  parent.appendChild(e);
  return e;
}
function txt(parent, x, y, s, size, anchor, extra) {
  const t = mk("text", parent, Object.assign({x: x, y: y, "font-size": size, "text-anchor": anchor || "start", fill: "#111"}, extra || {}));
  t.textContent = s;
  return t;
}
function lerpColor(stops, v) {
  v = Math.max(0, Math.min(1, v));
  for (let i = 1; i < stops.length; i++) {
    if (v <= stops[i][0]) {
      const a = stops[i-1], b = stops[i], f = (v - a[0]) / (b[0] - a[0] || 1);
      const ca = a[1], cb = b[1];
      const r = Math.round(ca[0] + (cb[0]-ca[0])*f), g = Math.round(ca[1] + (cb[1]-ca[1])*f), bl = Math.round(ca[2] + (cb[2]-ca[2])*f);
      return "rgb(" + r + "," + g + "," + bl + ")";
    }
  }
  return "rgb(" + stops[stops.length-1][1].join(",") + ")";
}
const CM_ORANGE = [[0,[0,0,0]],[0.35,[138,60,0]],[0.6,[240,125,10]],[0.8,[255,176,96]],[1,[255,255,255]]];
const CM_INFERNO = [[0,[0,0,4]],[0.2,[66,10,104]],[0.45,[147,38,103]],[0.65,[221,81,58]],[0.82,[252,165,10]],[1,[252,255,164]]];
const CM_GREEN = [[0,[0,0,0]],[1,[30,224,30]]];
const CM_VEL = [[0,[16,16,255]],[0.3,[138,26,154]],[0.65,[232,64,30]],[1,[255,255,32]]];
const DET_COLORS = {D4:"#1f77b4",B5:"#ff7f0e",C4:"#2ca02c",C5:"#d62728",D3:"#9467bd",E2:"#8c564b",E3:"#e377c2",E4:"#7f7f7f",F1:"#bcbd22",F2:"#17becf",G1:"#f0a87a",A4:"#b8864b",C3:"#7de8a8"};

// ---------------- FIGURE 1 ----------------
(function(){
  const g = document.getElementById("fig1");
  const X0 = 1329, Y0 = 178, W = 216, H = 216;
  const decY = d => 208 + (24 - d) * 27.3;
  const raX = r => 1354 + (50 - r) * 5.0;
  const fluxY = v => 377 - v * (182 / 700);
  const lg = mk("rect", g, {x: 1300, y: 153, width: 294, height: 16, fill: "#fff", stroke: "#bbb", "stroke-width": 1, rx: 2});
  
  
  const lgItems = [["1342224765(S)", 1312, "circle"], ["1342224766(N)", 1407, "circle"], ["1342213376(M)", 1502, "rect"]];
  lgItems.forEach(it => {
    const m = it[2] === "circle" ? mk("circle", g, {cx: it[1], cy: 161, r: 5, fill: "none", stroke: "#8fa8ee", "stroke-width": 2}) : mk("rect", g, {x: it[1] - 9, y: 157, width: 18, height: 8, fill: "none", stroke: "#3346a8", "stroke-width": 1.5});
    
    
    const t = txt(g, it[1] + (it[2] === "rect" ? 10 : 7), 165, it[0], 10.5);
    
    
  });
  const bg = mk("rect", g, {x: X0, y: Y0, width: W, height: H, fill: "#121212", stroke: "#000"});
  
  
  const sg = mk("g", g, {"clip-path": "url(#c1)"});
  const streak = mk("ellipse", sg, {cx: 1432, cy: 285, rx: 125, ry: 11, fill: "url(#gStreak)", transform: "rotate(60 1432 285)"});
  
  
  const streak2 = mk("ellipse", sg, {cx: 1432, cy: 285, rx: 95, ry: 4, fill: "#fff", opacity: 0.85, transform: "rotate(60 1432 285)"});
  
  
  const mrect = mk("rect", g, {x: 1396, y: 249, width: 93, height: 102, fill: "none", stroke: "#3346a8", "stroke-width": 1});
  
  
  const prect = mk("rect", g, {x: 1398, y: 343, width: 6, height: 7, fill: "none", stroke: "#3346a8", "stroke-width": 1});
  
  
  // hexagonal SSW detector layout (geometry) for two pointings
  const centers = [[1413, 236], [1468, 332]];
  const sp = 10.5;
  centers.forEach((c, ci) => {
    for (let q = -3; q <= 3; q++) {
      for (let r = -3; r <= 3; r++) {
        if (Math.abs(q + r) > 3) continue;
        const px = c[0] + sp * (q + r / 2), py = c[1] + sp * 0.87 * r;
        const ang = -0.5, dx = px - c[0], dy = py - c[1];
        const rx = c[0] + dx * Math.cos(ang) - dy * Math.sin(ang), ry = c[1] + dx * Math.sin(ang) + dy * Math.cos(ang);
        const cc = mk("circle", g, {cx: rx.toFixed(1), cy: ry.toFixed(1), r: 4.5, fill: "none", stroke: "#9fb4ee", "stroke-width": 1.1});
        
        
      }
    }
    const list = ci === 0 ? fig1NiiN : fig1NiiS;
    list.forEach(d => {
      const cc = mk("circle", g, {cx: c[0] + d[1] * sp, cy: c[1] - d[2] * sp * 0.9, r: 4.5, fill: "none", stroke: d[0], "stroke-width": 2.2});
      
      
    });
  });
  const cb = mk("rect", g, {x: 1557, y: 178, width: 10, height: 216, fill: "url(#gGray)", stroke: "#000", "stroke-width": 0.8});
  
  
  fig1FluxTicks.forEach(v => {
    const t = txt(g, 1573, fluxY(v) + 4, String(v), 11);
    
    
  });
  fig1DecVals.forEach((d, i) => {
    const t = txt(g, 1326, decY(d) + 4, fig1DecTicks[i], 11, "end");
    
    
  });
  fig1RaVals.forEach((r, i) => {
    const t = txt(g, raX(r), 410, fig1RaTicks[i], 11, "middle");
    
    
    const tk = mk("line", g, {x1: raX(r), y1: 394, x2: raX(r), y2: 389, stroke: "#000"});
    
    
  });
  const xl = txt(g, 1437, 427, "RA (ICRS)", 12, "middle");
  
  
  const yl = txt(g, 0, 0, "Dec (ICRS)", 12, "middle", {transform: "translate(1297,285) rotate(-90)"});
  
  
  const cl = txt(g, 0, 0, "Flux [MJy sr⁻¹]", 11.5, "middle", {transform: "translate(1608,286) rotate(-90)"});
  
  
})();

// ---------------- FIGURE 2 ----------------
(function(){
  const g = document.getElementById("fig2");
  const ttl = mk("text", g, {x: 2115, y: 163, "font-size": 21, "text-anchor": "middle", "font-family": "Liberation Sans, sans-serif", fill: "#111"});
  ttl.textContent = "Object: ngc 891-1, Obsid: 1342213376";
  
  
  function heat(grid, x, y, w, h, cmap, vmin, vmax, name) {
    const rows = grid.length, cols = grid[0].length, cw = w / cols, ch = h / rows;
    grid.forEach((row, ri) => row.forEach((v, ci) => {
      const fill = v < 0 ? "#c8c8c8" : lerpColor(cmap, (v - vmin) / (vmax - vmin));
      const r = mk("rect", g, {x: (x + ci * cw).toFixed(2), y: (y + ri * ch).toFixed(2), width: (cw + 0.4).toFixed(2), height: (ch + 0.4).toFixed(2), fill: fill});
      
      
    }));
    const fr = mk("rect", g, {x: x, y: y, width: w, height: h, fill: "none", stroke: "#555", "stroke-width": 0.6});
    
    
    return {cw: cw, ch: ch};
  }
  function axLabels(x, y, w, h, ylab) {
    const a = txt(g, x + w / 2, y + h + 19, "Right Ascension (J2000)", 8.5, "middle");
    
    
    const b = txt(g, 0, 0, "Declination (J2000)", 7.5, "middle", {transform: "translate(" + (x - 24) + "," + (y + h / 2) + ") rotate(-90)"});
    
    
    ["02:22:40", "02:22:35", "02:22:30", "02:22:25"].forEach((s, i) => {
      const t = txt(g, x + w * (0.15 + i * 0.23), y + h + 8, s, 4.5, "middle");
      
      
    });
    ["42°22′00″", "42°21′00″", "42°20′00″", "42°19′00″"].forEach((s, i) => {
      const t = txt(g, x - 3, y + h * (0.2 + i * 0.24), s, 4.5, "end");
      
      
    });
  }
  function cbar(x, y, h, grad, label, name) {
    const r = mk("rect", g, {x: x, y: y, width: 8, height: h, fill: "url(#" + grad + ")", stroke: "#555", "stroke-width": 0.5});
    
    
    const t = txt(g, 0, 0, label, 7, "middle", {transform: "translate(" + (x + 26) + "," + (y + h / 2) + ") rotate(-90)"});
    
    
  }
  // row1
  const h1 = heat(fig2SlwGrid, 1799, 185, 153, 152, CM_ORANGE, 0, 1, "slw-band-pixel");
  const gb = mk("rect", g, {x: 1799 + 4 * h1.cw, y: 185, width: h1.cw, height: h1.ch, fill: "none", stroke: "#1fc01f", "stroke-width": 1.5});
  
  
  const mb = mk("rect", g, {x: 1799 + 3 * h1.cw, y: 185 + 3 * h1.ch, width: h1.cw, height: h1.ch, fill: "none", stroke: "#e020e0", "stroke-width": 1.5});
  
  
  axLabels(1799, 185, 153, 152);
  cbar(1955, 185, 152, "gOrange", "Band Integral [Wm⁻²sr⁻¹]", "fig2-slw-colorbar");
  const h2 = heat(fig2SswGrid, 1799, 385, 153, 165, CM_ORANGE, 0, 1, "ssw-band-pixel");
  const gb2 = mk("rect", g, {x: 1799 + 4 * h2.cw, y: 385, width: h2.cw, height: h2.ch, fill: "none", stroke: "#1fc01f", "stroke-width": 1.5});
  
  
  const mb2 = mk("rect", g, {x: 1799 + 3 * h2.cw, y: 385 + 5 * h2.ch, width: h2.cw, height: h2.ch, fill: "#fff", stroke: "#e020e0", "stroke-width": 1.5});
  
  
  axLabels(1799, 385, 153, 165);
  cbar(1955, 385, 165, "gOrange", "Band Integral [Wm⁻²sr⁻¹]", "fig2-ssw-colorbar");
  // spectra
  function spec(x, y, w, h, f0, f1, v0, v1, freq, bright, dim, xt, yt, name) {
    const fx = f => x + (f - f0) / (f1 - f0) * w, fy = v => y + h - (v - v0) / (v1 - v0) * h;
    const fr = mk("rect", g, {x: x, y: y, width: w, height: h, fill: "#fff", stroke: "#444", "stroke-width": 0.7});
    
    
    const pb = mk("polyline", g, {points: freq.map((f, i) => fx(f).toFixed(1) + "," + fy(bright[i]).toFixed(1)).join(" "), fill: "none", stroke: "#ff20ff", "stroke-width": 3});
    
    
    const pd = mk("polyline", g, {points: freq.map((f, i) => fx(f).toFixed(1) + "," + fy(dim[i]).toFixed(1)).join(" "), fill: "none", stroke: "#20ee20", "stroke-width": 3});
    
    
    const cf = mk("line", g, {x1: x, y1: fy(bright[0] - 0.1), x2: x + w, y2: fy(bright[bright.length - 1] + 0.2), stroke: "#222", "stroke-dasharray": "3,3", "stroke-width": 0.8});
    
    
    xt.forEach(f => {
      const t = txt(g, fx(f), y + h + 9, String(f), 6, "middle");
      
      
    });
    yt.forEach(v => {
      const t = txt(g, x - 3, fy(v) + 2, v.toFixed(1) + "e", 5, "end");
      
      
    });
    const xl = txt(g, x + w / 2, y + h + 23, "Frequency [GHz]", 10, "middle");
    
    
    const yl = txt(g, 0, 0, "Brightness [Wm⁻²Hz⁻¹sr⁻¹]", 8, "middle", {transform: "translate(" + (x - 27) + "," + (y + h / 2) + ") rotate(-90)"});
    
    
  }
  spec(2045, 183, 177, 134, 400, 1080, -1.05, 3.05, fig2SlwFreq, fig2SlwBright, fig2SlwDim, [400,500,600,700,800,900,1000], [-1,-0.5,0,0.5,1,1.5,2,2.5,3], "slw-spectrum");
  spec(2045, 389, 177, 134, 900, 1620, -0.55, 4.05, fig2SswFreq, fig2SswBright, fig2SswDim, [900,1000,1100,1200,1300,1400,1500,1600], [-0.5,0,0.5,1,1.5,2,2.5,3,3.5,4], "ssw-spectrum");
  [340, 547].forEach(ly => {
    const r = mk("rect", g, {x: 2007, y: ly, width: 212, height: 21, fill: "#fff", stroke: "#888", "stroke-width": 0.8});
    
    
    const items = [["Dimmest Pixel (SSW)", "#20ee20", 2012, ly + 8], ["Most Lines (comb.)", "#e02020", 2120, ly + 8], ["Brightest Pixel (SSW)", "#ff20ff", 2012, ly + 17], ["Continuum fit", "#222", 2120, ly + 17]];
    items.forEach(it => {
      const l = mk("line", g, {x1: it[2], y1: it[3] - 3, x2: it[2] + 10, y2: it[3] - 3, stroke: it[1], "stroke-width": 2});
      
      
      const t = txt(g, it[2] + 14, it[3], it[0], 8);
      
      
    });
  });
  // lines map
  const ttl1 = txt(g, 2340, 180, "SLW/SSW Combined", 8.5, "middle");
  
  
  const h3 = heat(fig2LinesGrid, 2277, 186, 125, 162, CM_GREEN, 0, 6, "lines-count-pixel");
  const rb = mk("rect", g, {x: 2277 + 2 * h3.cw - 2, y: 186 + 4 * h3.ch - 2, width: h3.cw + 4, height: h3.ch + 4, fill: "none", stroke: "#e02020", "stroke-width": 1});
  
  
  axLabels(2277, 186, 125, 162);
  cbar(2429, 186, 162, "gGreen", "Lines identified by FF", "fig2-lines-colorbar");
  // velocity map
  const ttl2 = txt(g, 2340, 386, "SLW/SSW Combined", 8.5, "middle");
  
  
  const vw = 146, vh = 162, vx = 2277, vy = 393;
  const rows = fig2VelGrid.length, cols = fig2VelGrid[0].length, cw = vw / cols, ch = vh / rows;
  fig2VelGrid.forEach((row, ri) => row.forEach((v, ci) => {
    const fill = v < 0 ? "#c8c8c8" : lerpColor(CM_VEL, (v - 380) / (740 - 380));
    const r = mk("rect", g, {x: (vx + ci * cw).toFixed(2), y: (vy + ri * ch).toFixed(2), width: (cw + 0.3).toFixed(2), height: (ch + 0.3).toFixed(2), fill: fill});
    
    
    const c = mk("circle", g, {cx: (vx + (ci + 0.5) * cw).toFixed(2), cy: (vy + (ri + 0.5) * ch).toFixed(2), r: 5.2, fill: "none", stroke: "#3ed63e", "stroke-width": 0.8});
    
    
    const t = txt(g, vx + (ci + 0.5) * cw, vy + (ri + 0.5) * ch + 3, v < 0 ? "1" : "N", 7, "middle", {fill: "#1a8a1a"});
    
    
  }));
  axLabels(vx, vy, vw, vh);
  cbar(2429, 393, 162, "gVel", "Velocity [km/s]", "fig2-velocity-colorbar");
})();

// ---------------- FIGURE 3 ----------------
(function(){
  const g = document.getElementById("fig3");
  function panel(x0, y0, w, h, yticks, xticksY, name) {
    const r = mk("rect", g, {x: x0, y: y0, width: w, height: h, fill: "#fff", stroke: "#000", "stroke-width": 1.2});
    
    
    const decL = ["42°24′", "22′", "20′", "18′", "16′"];
    yticks.forEach((yy, i) => {
      const t = txt(g, x0 - 6, yy + 4, decL[i], 12, "end");
      
      
      const tk = mk("line", g, {x1: x0, y1: yy, x2: x0 - 4, y2: yy, stroke: "#000"});
      
      
    });
    const raL = ["2ʰ23ᵐ00ˢ", "22ᵐ48ˢ", "36ˢ", "24ˢ", "12ˢ"];
    raL.forEach((s, i) => {
      const xx = x0 + i * 50.3;
      const t = txt(g, xx, xticksY, s, 12, "middle");
      
      
      const tk = mk("line", g, {x1: xx, y1: y0 + h, x2: xx, y2: y0 + h + 5, stroke: "#000"});
      
      
      const tk2 = mk("line", g, {x1: xx, y1: y0, x2: xx, y2: y0 - 5, stroke: "#000"});
      
      
    });
    const xl = txt(g, x0 + w * 0.52, xticksY + 15, "RA (ICRS)", 13, "middle");
    
    
    const yl = txt(g, 0, 0, "Dec (ICRS)", 13, "middle", {transform: "translate(" + (x0 - 38) + "," + (y0 + h / 2) + ") rotate(-90)", "font-family": "DejaVu Serif, serif"});
    
    
  }
  function pixmap(x0, vals, vmin, vmax, sparse, name) {
    // 14 rows x 3 cells stripe of observation M pixels
    const cs = 7.2;
    vals.forEach((v, i) => {
      const r = Math.floor(i / 3), c = i % 3;
      const px = x0 + 88 + r * 2.6 + c * cs, py = 232 + r * cs;
      const rc = mk("rect", g, {x: px.toFixed(1), y: py.toFixed(1), width: cs, height: cs, fill: lerpColor(CM_INFERNO, (v - vmin) / (vmax - vmin))});
      
      
    });
    sparse.forEach((v, i) => {
      const cx = x0 + 88 + i * 3.8, cy = 203 + i * 9.2;
      const cc = mk("circle", g, {cx: cx.toFixed(1), cy: cy.toFixed(1), r: 4, fill: "none", stroke: lerpColor(CM_INFERNO, (v - vmin) / (vmax - vmin) * 0.9 + 0.1), "stroke-width": 2.6});
      
      
    });
    [[x0 + 67, 180], [x0 + 150, 354]].forEach(p => {
      const t = txt(g, p[0], p[1], "X", 15, "middle", {"font-family": "Liberation Sans, sans-serif"});
      
      
    });
  }
  const yt1 = [201, 246, 292, 337, 382];
  panel(2668, 158, 226, 226, yt1, 404, "noise-panel");
  pixmap(2668, fig3NoiseVals, 0.9, 4.4, fig3SparseNoise, "noise");
  panel(3011, 158, 226, 227, yt1, 404, "snr-panel");
  pixmap(3011, fig3SnrVals, 5, 82, fig3SparseSnr, "snr");
  function colorbar(x, y, h, ticks, vmin, vmax, label, exp, name) {
    const r = mk("rect", g, {x: x, y: y, width: 11, height: h, fill: "url(#gInferno)", stroke: "#000", "stroke-width": 0.8});
    
    
    ticks.forEach(v => {
      const yy = y + h - (v - vmin) / (vmax - vmin) * h;
      const t = txt(g, x + 16, yy + 4, ticks.length > 7 ? v.toFixed(2) : String(v), 12);
      
      
    });
    const tl = txt(g, 0, 0, label, 12, "middle", {transform: "translate(" + (x + 55) + "," + (y + h / 2) + ") rotate(-90)", "font-family": "DejaVu Serif, serif"});
    
    
    if (exp) {
      const e = txt(g, x - 12, y - 4, exp, 11);
      
      
    }
  }
  colorbar(2901, 158, 226, [1.0,1.5,2.0,2.5,3.0,3.5,4.0], 0.9, 4.45, "RMS Noise [W m⁻² Hz⁻¹ sr⁻¹]", "1e−19", "noise-colorbar");
  colorbar(3244, 159, 226, [10,20,30,40,50,60,70,80], 5, 82, "SNR", "", "snr-colorbar");
  // lower panel
  panel(2838, 453, 206, 207, [491, 533, 574, 616, 657], 677, "brightness-panel");
  const ax = s => [2941 + s * 0.1, 545 + s * 0.285];
  const al = mk("line", g, {x1: ax(-260)[0], y1: ax(-260)[1], x2: ax(240)[0], y2: ax(240)[1], stroke: "#999", "stroke-width": 1});
  
  
  fig3AxisLabels.forEach(s => {
    const p = ax(s);
    const l = mk("line", g, {x1: p[0] - 17, y1: p[1] + 12, x2: p[0] + 17, y2: p[1] - 12, stroke: "#aaa", "stroke-width": 1});
    
    
    const t = txt(g, p[0] + 20, p[1] - 8, String(s) + "″", 11, "start", {fill: "#bbb"});
    
    
  });
  fig3AxisPos.forEach((s, i) => {
    const p = ax(s);
    const off = (i % 2 ? 5 : -5);
    const c = mk("circle", g, {cx: (p[0] + off).toFixed(1), cy: (p[1] - off * 0.3).toFixed(1), r: 3.6, fill: lerpColor(CM_INFERNO, fig3Bright[i] / 2.0)});
    
    
  });
  [[2900, 474], [2976, 634]].forEach(p => {
    const t = txt(g, p[0], p[1], "X", 15, "middle", {"font-family": "Liberation Sans, sans-serif"});
    
    
  });
  colorbar(3052, 453, 207, [0.25,0.50,0.75,1.00,1.25,1.50,1.75,2.00], 0.05, 2.02, "FWHM Scaled Integrated Brightness [W m⁻² Hz⁻¹ sr⁻¹]", "1e−17", "brightness-colorbar");
})();

// ---------------- FIGURE 4 ----------------
(function(){
  const g = document.getElementById("fig4");
  const fx = f => 3493 + (f - 1447) * 16.17;
  function plot(y0, h, vmin, vmax, dets, offs, peaks, amps, yticks, clip, name, legend) {
    const fy = v => y0 + h - (v - vmin) / (vmax - vmin) * h;
    const fr = mk("rect", g, {x: 3492, y: y0, width: 293, height: h, fill: "#fff", stroke: "#000", "stroke-width": 1.2});
    
    
    const cg = mk("g", g, {"clip-path": "url(#" + clip + ")"});
    dets.forEach((d, i) => {
      const pts = fig4ProfileDx.map((dx, k) => fx(peaks[i] + dx).toFixed(1) + "," + fy(offs[i] + amps[i] * fig4ProfileY[k]).toFixed(1));
      const pl = mk("polyline", cg, {points: pts.join(" "), fill: "none", stroke: DET_COLORS[d], "stroke-width": 1.8});
      
      
      fig4ProfileDx.forEach((dx, k) => {
        const m = mk("circle", cg, {cx: fx(peaks[i] + dx).toFixed(1), cy: fy(offs[i] + amps[i] * fig4ProfileY[k]).toFixed(1), r: 2.3, fill: DET_COLORS[d]});
        
        
      });
      const pc = mk("circle", cg, {cx: fx(peaks[i]).toFixed(1), cy: fy(offs[i] + amps[i]).toFixed(1), r: 5.5, fill: DET_COLORS[d], stroke: "#000", "stroke-width": 2});
      
      
    });
    const dl = mk("line", g, {x1: fx(fig4RestFreq), y1: y0, x2: fx(fig4RestFreq), y2: y0 + h, stroke: "#000", "stroke-width": 2.2, "stroke-dasharray": "9,5"});
    
    
    yticks.forEach(v => {
      const t = txt(g, 3484, fy(v) + 4, String(v), 12, "end");
      
      
      const tk = mk("line", g, {x1: 3492, y1: fy(v), x2: 3487, y2: fy(v), stroke: "#000"});
      
      
    });
    fig4XTicks.forEach(f => {
      const t = txt(g, fx(f), y0 + h + 17, String(f), 12, "middle");
      
      
      const tk = mk("line", g, {x1: fx(f), y1: y0 + h, x2: fx(f), y2: y0 + h + 4, stroke: "#000"});
      
      
    });
    const yl = txt(g, 0, 0, "Normalized Brightness", 12.5, "middle", {transform: "translate(3466," + (y0 + h / 2) + ") rotate(-90)", "font-family": "DejaVu Serif, serif"});
    
    
    const xl = txt(g, 3638, y0 + h + 33, "Frequency [GHz]", 13, "middle");
    
    
    if (legend) {
      const lb = mk("rect", g, {x: 3498, y: 152, width: 88, height: 113, fill: "#fff", "fill-opacity": 0.85, stroke: "#ddd", rx: 3});
      
      
      fig4LegendNames.forEach((n, i) => {
        const col = i % 2, row = Math.floor(i / 2);
        const lx = 3503 + col * 45, ly = 163 + row * 15.5;
        const l = mk("line", g, {x1: lx, y1: ly, x2: lx + 16, y2: ly, stroke: DET_COLORS[n], "stroke-width": 2});
        
        
        const m = mk("circle", g, {cx: lx + 8, cy: ly, r: 2.8, fill: DET_COLORS[n]});
        
        
        const t = txt(g, lx + 18, ly + 4, n, 11);
        
        
      });
    }
  }
  plot(148, 195, -0.08, 5.3, fig4TopDetectors, fig4TopOffsets, fig4TopPeaks, fig4TopAmps, fig4TopYTicks, "c4a", "fig4-top", true);
  plot(388, 200, -0.26, 6.33, fig4BotDetectors, fig4BotOffsets, fig4BotPeaks, fig4BotAmps, fig4BotYTicks, "c4b", "fig4-bottom", false);
})();

// ---------------- FIGURE 5 ----------------
(function(){
  const g = document.getElementById("fig5");
  const px = p => 3981 + p * 0.45;
  const vy = v => 254 + (800 - v) * 0.356;
  // top panel
  const tp = mk("rect", g, {x: 3881, y: 150, width: 212, height: 82, fill: "#fff", stroke: "#000", "stroke-width": 1.2});
  
  
  const gal = mk("ellipse", g, {cx: 3981, cy: 191, rx: 90, ry: 9, fill: "url(#gGal)"});
  
  
  fig5ContourRx.forEach((rx, i) => {
    const e = mk("ellipse", g, {cx: 3985, cy: 191, rx: rx, ry: fig5ContourRy[i], fill: "none", stroke: "#33dddd", "stroke-width": 0.9});
    
    
  });
  const ar = mk("line", g, {x1: 3976, y1: 212, x2: 3980, y2: 194, stroke: "#000", "stroke-width": 1.3});
  
  
  const rx = txt(g, 3981, 194, "×", 9, "middle", {fill: "#ff66cc"});
  
  
  const rc = txt(g, 3908, 222, "Radio Center", 11);
  
  
  [[90, 155], [0, 195], [-90, 235]].forEach(p => {
    const t = txt(g, 3876, p[1], String(p[0]), 11, "end");
    
    
  });
  const zt = txt(g, 0, 0, "z [arcseconds]", 11, "middle", {transform: "translate(3842,191) rotate(-90)", "font-family": "DejaVu Serif, serif"});
  
  
  // bottom panel
  const bp = mk("rect", g, {x: 3881, y: 242, width: 212, height: 205, fill: "#fff", stroke: "#000", "stroke-width": 1.2});
  
  
  const zColor = z => { for (let i = 0; i < 5; i++) if (z <= fig5ZBounds[i + 1]) return fig5ZColors[i]; return fig5ZColors[4]; };
  fig5Pos.forEach((p, i) => {
    const eb = mk("line", g, {x1: px(p), y1: vy(fig5Vel[i]) - 10, x2: px(p), y2: vy(fig5Vel[i]) + 10, stroke: "#000", "stroke-width": 1.3});
    
    
  });
  fig5Pos.forEach((p, i) => {
    const c = mk("circle", g, {cx: px(p).toFixed(1), cy: vy(fig5Vel[i]).toFixed(1), r: 4.6, fill: zColor(fig5Z[i]), stroke: "#444", "stroke-width": 0.6});
    
    
  });
  const fit = mk("polyline", g, {points: fig5FitPos.map((p, i) => px(p).toFixed(1) + "," + vy(fig5FitVel[i]).toFixed(1)).join(" "), fill: "none", stroke: "#22cccc", "stroke-width": 1.6, "stroke-dasharray": "5,3"});
  
  
  const lb = mk("rect", g, {x: 3887, y: 248, width: 104, height: 50, fill: "#fff", stroke: "#ccc", rx: 2});
  
  
  const lgLabels = ["[NII] ³P₁ – ³P₀", "[CI] ³P₁ – ³P₀", "[CI] ³P₂ – ³P₁"];
  lgLabels.forEach((s, i) => {
    const y = 261 + i * 15;
    const m = i === 0 ? mk("circle", g, {cx: 3896, cy: y - 4, r: 4, fill: "#000"}) : (i === 1 ? mk("polygon", g, {points: (3892) + "," + (y) + " " + (3900) + "," + (y) + " " + 3896 + "," + (y - 9), fill: "#000"}) : mk("rect", g, {x: 3892, y: y - 8, width: 8, height: 8, fill: "#000"}));
    
    
    const t = txt(g, 3906, y, s, 10.5);
    
    
  });
  const res = mk("ellipse", g, {cx: 3895, cy: 341, rx: 4, ry: 40, fill: "none", stroke: "#000", "stroke-width": 2});
  
  
  const rt = txt(g, 3902, 345, "SPIRE FTS", 10.5);
  
  
  const rt2 = txt(g, 3902, 358, "resolution", 10.5);
  
  
  [["S", 4050, 339, 43, 53], ["N", 4007, 392, 42, 55], ["M", 4049, 392, 44, 55]].forEach(b => {
    const r = mk("rect", g, {x: b[1], y: b[2], width: b[3], height: b[4], fill: "#fff", stroke: "#000", "stroke-width": 1});
    
    
    const t = txt(g, b[1] + 3, b[2] + 11, b[0], 10);
    
    
  });
  fig5Pos.forEach((p, i) => {
    const inset = p < -60 ? [4007, 392, 42, 55] : (p > 60 ? [4050, 339, 43, 53] : [4049, 392, 44, 55]);
    const ix = inset[0] + 6 + (p + 200) / 400 * (inset[2] - 12), iy = inset[1] + inset[3] - 6 - (fig5Vel[i] - 280) / 540 * (inset[3] - 14);
    const d = mk("circle", g, {cx: ix.toFixed(1), cy: iy.toFixed(1), r: 0.9, fill: "#000"});
    
    
  });
  fig5XTicks.forEach(p => {
    const t = txt(g, px(p), 466, String(p).replace("-", "−"), 12, "middle");
    
    
    const tk = mk("line", g, {x1: px(p), y1: 447, x2: px(p), y2: 452, stroke: "#000"});
    
    
  });
  fig5YTicks.forEach(v => {
    const t = txt(g, 3876, vy(v) + 4, String(v), 12, "end");
    
    
  });
  const xl = txt(g, 3985, 482, "Major Axis Position [arcsec]", 13, "middle");
  
  
  const yl = txt(g, 0, 0, "Radial Velocity [km s⁻¹]", 12, "middle", {transform: "translate(3840,344) rotate(-90)", "font-family": "DejaVu Serif, serif"});
  
  
  const segH = 205 / 5;
  fig5ZColors.forEach((c, i) => {
    const r = mk("rect", g, {x: 4096, y: 447 - (i + 1) * segH, width: 12, height: segH, fill: c});
    
    
  });
  fig5ZBounds.forEach((b, i) => {
    const t = txt(g, 4112, 447 - i * segH + 4, String(b).replace("-", "−"), 11);
    
    
  });
  const zl = txt(g, 0, 0, "z [arcsec]", 12, "middle", {transform: "translate(4160,344) rotate(-90)", "font-family": "DejaVu Serif, serif"});
  
  
})();
</script>
</body></html>
